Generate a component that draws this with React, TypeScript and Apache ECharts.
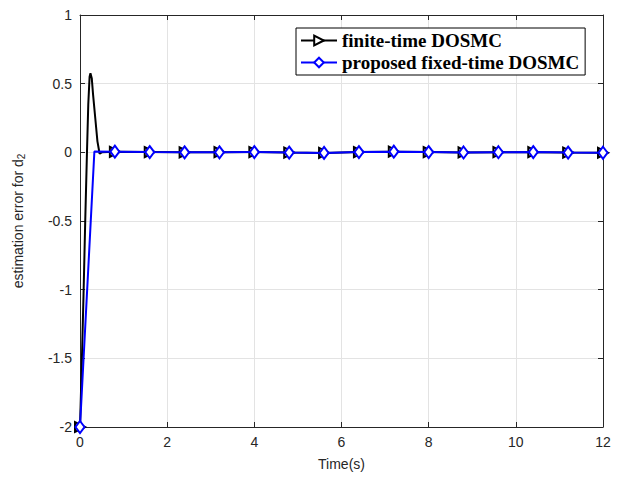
import React, { useEffect, useRef } from "react";
import * as echarts from "echarts";

const blackTime = [0, 0.04, 0.08, 0.12, 0.16, 0.19, 0.22, 0.24, 0.27, 0.3, 0.35, 0.4, 0.45, 0.5, 0.8, 1.6, 2.4, 3.2, 4.0, 4.8, 5.6, 6.4, 7.2, 8.0, 8.8, 9.6, 10.4, 11.2, 12.0];
const blackValue = [-2, -1.55, -1.05, -0.5, 0.0, 0.35, 0.55, 0.575, 0.54, 0.42, 0.25, 0.08, -0.01, 0.0, 0.004, 0.002, 0.0, 0.001, 0.002, -0.002, -0.004, 0.002, 0.005, 0.002, -0.001, 0.001, 0.001, -0.002, -0.003];
const blueTime = [0, 0.33, 0.8, 1.6, 2.4, 3.2, 4.0, 4.8, 5.6, 6.4, 7.2, 8.0, 8.8, 9.6, 10.4, 11.2, 12.0];
const blueValue = [-2, 0.006, 0.005, 0.002, 0.0, 0.0, 0.002, -0.002, -0.004, 0.002, 0.005, 0.002, -0.001, 0.001, 0.002, -0.002, -0.003];
const seriesNames = ["finite-time DOSMC", "proposed fixed-time DOSMC"];
const markerStep = 0.8;

const isMarker = (t: number) => Math.abs(t / markerStep - Math.round(t / markerStep)) < 1e-6;

function buildData(ts: number[], vs: number[]) {
  return ts.map((t, i) => ({
    value: [t, vs[i]],
    symbolSize: isMarker(t) ? undefined : 0,
  }));
}

export default function App() {
  const ref = useRef<HTMLDivElement>(null);
  useEffect(() => {
    if (!ref.current) return;
    const chart = echarts.init(ref.current, null, { renderer: "svg" });
    const axisColor = "#262626";
    const gridColor = "#e3e3e3";
    const font = "Liberation Sans";
    chart.setOption({
      animation: false,
      backgroundColor: "#ffffff",
      grid: { left: 80, right: 21, top: 15, bottom: 58, containLabel: false },
      legend: {
        orient: "vertical",
        left: 296,
        top: 28,
        padding: [3, 6, 3, 4],
        itemGap: 3,
        itemWidth: 36,
        itemHeight: 12,
        borderColor: "#000",
        borderWidth: 1,
        backgroundColor: "#fff",
        textStyle: { fontFamily: "Liberation Serif", fontWeight: "bold", fontSize: 19, color: "#000" },
        data: seriesNames,
      },
      xAxis: [
        {
          type: "value",
          min: 0,
          max: 12,
          interval: 2,
          name: "Time(s)",
          nameLocation: "middle",
          nameGap: 30,
          nameTextStyle: { fontFamily: font, fontSize: 14, color: axisColor },
          axisLine: { show: true, onZero: false, lineStyle: { color: axisColor, width: 1 } },
          axisTick: { show: true, inside: true, length: 5, lineStyle: { color: axisColor } },
          axisLabel: { fontFamily: font, fontSize: 14, color: axisColor, margin: 8 },
          splitLine: { show: true, lineStyle: { color: gridColor, width: 1 } },
        },
        {
          type: "value",
          position: "top",
          min: 0,
          max: 12,
          interval: 2,
          axisLine: { show: true, onZero: false, lineStyle: { color: axisColor, width: 1 } },
          axisTick: { show: true, inside: true, length: 5, lineStyle: { color: axisColor } },
          axisLabel: { show: false },
          splitLine: { show: false },
        },
      ],
      yAxis: [
        {
          type: "value",
          min: -2,
          max: 1,
          interval: 0.5,
          name: "estimation error for d{sub|2}",
          nameLocation: "middle",
          nameGap: 54,
          nameRotate: 90,
          nameTextStyle: {
            fontFamily: font,
            fontSize: 14,
            color: axisColor,
            rich: { sub: { fontFamily: font, fontSize: 10, color: axisColor, verticalAlign: "bottom", padding: [6, 0, 0, 0] } },
          },
          axisLine: { show: true, onZero: false, lineStyle: { color: axisColor, width: 1 } },
          axisTick: { show: true, inside: true, length: 5, lineStyle: { color: axisColor } },
          axisLabel: { fontFamily: font, fontSize: 14, color: axisColor, margin: 8 },
          splitLine: { show: true, lineStyle: { color: gridColor, width: 1 } },
        },
        {
          type: "value",
          position: "right",
          min: -2,
          max: 1,
          interval: 0.5,
          axisLine: { show: true, onZero: false, lineStyle: { color: axisColor, width: 1 } },
          axisTick: { show: true, inside: true, length: 5, lineStyle: { color: axisColor } },
          axisLabel: { show: false },
          splitLine: { show: false },
        },
      ],
      series: [
        {
          name: seriesNames[0],
          type: "line",
          data: buildData(blackTime, blackValue),
          smooth: false,
          showAllSymbol: true,
          symbol: "emptyTriangle",
          symbolRotate: -90,
          symbolSize: 10,
          color: "#000000",
          lineStyle: { color: "#000000", width: 2 },
          itemStyle: { color: "#000000", borderColor: "#000000", borderWidth: 2 },
          z: 2,
        },
        {
          name: seriesNames[1],
          type: "line",
          data: buildData(blueTime, blueValue),
          showAllSymbol: true,
          symbol: "emptyDiamond",
          symbolSize: [9, 12],
          color: "#0000ff",
          lineStyle: { color: "#0000ff", width: 2 },
          itemStyle: { color: "#0000ff", borderColor: "#0000ff", borderWidth: 1.5 },
          z: 3,
        },
      ],
    });
    return () => chart.dispose();
  }, []);
  return <div ref={ref} style={{ width: 624, height: 485, position: "absolute", left: 0, top: 0 }} />;
}
